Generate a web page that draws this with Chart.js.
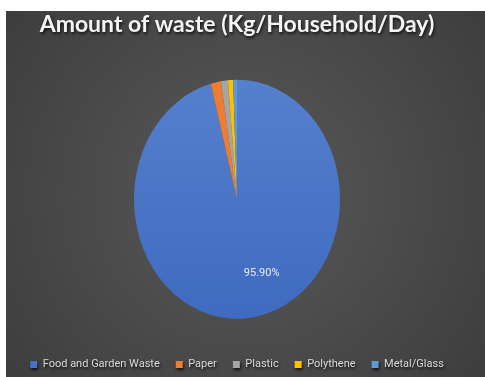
<!DOCTYPE html>
<html>
<head>
<meta charset="utf-8">
<script src="https://cdn.jsdelivr.net/npm/chart.js@4/dist/chart.umd.min.js"></script>
<style>
  html, body { margin: 0; padding: 0; background: #fff; }
  #wrap { position: absolute; left: 6px; top: 11px; width: 479px; height: 366px; }
</style>
</head>
<body>
<div id="wrap"><canvas id="wasteChart" width="479" height="366"></canvas></div>
<script>
// Amount of waste per household per day, share by type (%)
const labels = ['Food and Garden Waste', 'Paper', 'Plastic', 'Polythene', 'Metal/Glass'];
const shares = [95.9, 1.6, 1.1, 0.8, 0.6];
const colors = ['#4472C4', '#ED7D31', '#A5A5A5', '#FFC000', '#5B9BD5'];

const title = 'Amount of waste (Kg/Household/Day)';

// dark radial background behind everything
const bgPlugin = {
  id: 'bg',
  beforeDraw(chart) {
    const { ctx, width, height } = chart;
    ctx.save();
    const g = ctx.createRadialGradient(width / 2, height / 2, 20, width / 2, height / 2, width * 0.7);
    g.addColorStop(0, '#575757');
    g.addColorStop(1, '#3a3a3a');
    ctx.fillStyle = g;
    ctx.fillRect(0, 0, width, height);
    // soft shadow for the title text
    ctx.shadowColor = 'rgba(0,0,0,0.75)';
    ctx.shadowBlur = 3;
    ctx.shadowOffsetX = 1;
    ctx.shadowOffsetY = 2;
  },
  beforeDatasetsDraw(chart) {
    chart.ctx.restore();
  }
};

// stretch the pie vertically into an oval
const stretch = 1.16;
const ovalPlugin = {
  id: 'oval',
  beforeDatasetsDraw(chart) {
    const arc = chart.getDatasetMeta(0).data[0];
    const { ctx } = chart;
    ctx.save();
    ctx.translate(arc.x, arc.y);
    ctx.scale(1, stretch);
    ctx.translate(-arc.x, -arc.y);
  },
  afterDatasetsDraw(chart) {
    const { ctx } = chart;
    ctx.restore();
    // percentage label on the largest slice
    const arc = chart.getDatasetMeta(0).data[0];
    const total = shares.reduce((a, b) => a + b, 0);
    const pct = (shares[0] / total * 100).toFixed(2) + '%';
    const ang = 1.2;
    const r = arc.outerRadius * 0.66;
    ctx.save();
    ctx.font = '11px Roboto, sans-serif';
    ctx.fillStyle = '#e6ecf7';
    ctx.textAlign = 'center';
    ctx.textBaseline = 'middle';
    ctx.fillText(pct, arc.x + Math.cos(ang) * r, arc.y + Math.sin(ang) * r * stretch);
    ctx.restore();
  }
};

const ctx = document.getElementById('wasteChart');

new Chart(ctx, {
  type: 'pie',
  data: {
    labels,
    datasets: [
      {
        data: shares,
        backgroundColor: (c) => {
          if (c.dataIndex !== 0) return colors[c.dataIndex];
          const area = c.chart.chartArea;
          if (!area) return colors[0];
          const g = c.chart.ctx.createLinearGradient(0, area.top, 0, area.bottom);
          g.addColorStop(0, '#5a84d0');
          g.addColorStop(1, '#3a66bd');
          return g;
        },
        borderWidth: 0,
        radius: 103,
      },
    ],
  },
  options: {
    responsive: false,
    animation: false,
    layout: { padding: { top: 0, bottom: -3, left: 0, right: 17 } },
    plugins: {
      tooltip: { enabled: false },
      title: {
        display: true,
        text: title,
        color: '#f4f4f4',
        font: { family: 'Lato, "Open Sans", sans-serif', size: 23, weight: 'bold' },
        padding: { top: 0, bottom: 17 },
      },
      legend: {
        position: 'bottom',
        z: 1,
        labels: {
          color: '#d9d9d9',
          font: { family: 'Roboto, sans-serif', size: 11 },
          boxWidth: 7,
          boxHeight: 7,
          padding: 16,
          generateLabels: () => labels.map((l, i) => ({
            text: l,
            fillStyle: colors[i],
            strokeStyle: colors[i],
            lineWidth: 0,
            fontColor: '#d9d9d9',
            index: i,
          })),
        },
      },
    },
  },
  plugins: [bgPlugin, ovalPlugin],
});
</script>
</body>
</html>
